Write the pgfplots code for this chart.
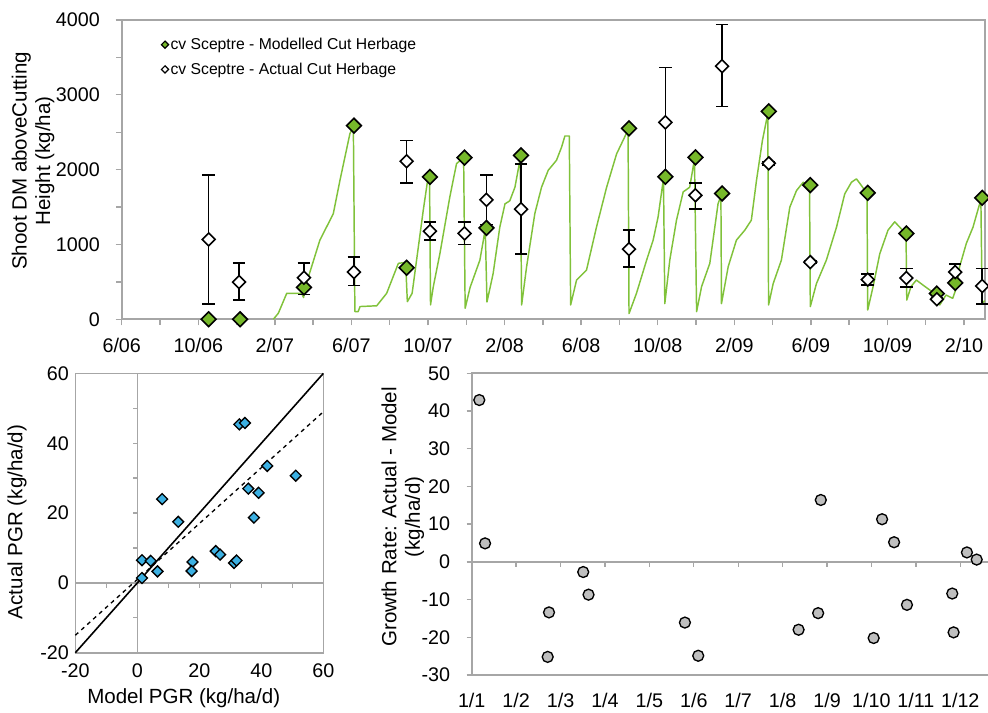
\documentclass[border=0pt]{standalone}
\usepackage{pgfplots}
\usepackage{pgfplotstable}
\pgfplotsset{compat=1.18}
\usepackage{fontspec}
\setmainfont{Liberation Sans}
\definecolor{axgray}{RGB}{166,166,166}
\definecolor{mgreen}{RGB}{118,184,42}
\definecolor{lgreen}{RGB}{128,194,58}
\definecolor{mblue}{RGB}{60,176,226}
\definecolor{cgray}{RGB}{191,191,191}
\newcommand{\ticksize}{\fontsize{14.8}{17}\selectfont}
\newcommand{\labsize}{\fontsize{15.4}{17.5}\selectfont}

\pgfplotstableread{
x y
7.92 0
8.18 80
8.62 347
9.40 347
9.50 290
9.55 400
10.35 1057
11.05 1409
11.40 1857
11.92 2480
12.10 2570
12.18 102
12.35 102
12.45 170
13.32 180
13.84 347
14.45 747
14.83 760
14.92 235
15.17 347
15.75 1453
15.98 1857
16.08 1890
16.13 191
16.27 427
16.62 876
17.14 1636
17.49 2080
17.86 2160
17.94 147
18.20 427
18.71 791
18.99 1200
19.08 231
19.40 609
19.75 1231
20.02 1542
20.27 1582
20.54 1764
20.82 2150
20.89 191
21.15 702
21.58 1413
21.93 1764
22.28 1991
22.71 2124
22.98 2302
23.15 2449
23.38 2449
23.45 191
23.76 524
24.28 658
24.80 1231
25.33 1764
25.85 2209
26.45 2530
26.50 76
26.89 347
27.42 791
27.76 1057
28.02 1369
28.30 1880
28.37 209
28.63 791
28.98 1324
29.33 1702
29.67 1764
29.92 2140
30.03 102
30.29 436
30.72 747
31.15 1542
31.30 1650
31.33 209
31.68 702
32.11 1057
32.55 1191
32.89 1324
33.16 1857
33.47 2391
33.75 2750
33.79 191
34.03 476
34.46 791
34.90 1498
35.25 1720
35.60 1831
35.93 1780
35.97 169
36.29 476
36.81 791
37.34 1231
37.77 1676
38.12 1831
38.38 1876
38.64 1787
38.93 1680
38.97 124
39.25 436
39.60 876
40.03 1191
40.38 1302
40.64 1231
40.97 1140
41.01 257
41.23 436
41.51 524
41.85 458
42.21 391
42.47 347
42.73 191
43.06 324
43.41 280
43.60 420
43.77 702
44.12 1013
44.47 1231
44.88 1600
44.95 209
45.08 250
}\modelline

\pgfplotstableread{
x y
4.54 0
6.18 0
9.52 427
12.13 2587
14.88 688
16.10 1902
17.91 2160
19.05 1221
20.86 2190
26.50 2551
28.40 1904
29.97 2163
31.36 1681
33.80 2778
35.97 1793
38.97 1690
40.99 1146
42.58 343
43.54 486
44.95 1623
}\modelcut

\pgfplotstableread{
x y ep em
4.54 1067 857 863
6.13 497 254 240
9.52 555 196 222
12.13 631 200 182
14.88 2111 280 289
16.10 1177 121 120
17.91 1147 151 147
19.05 1596 328 328
20.86 1471 605 595
26.50 937 259 240
28.40 2631 733 733
29.97 1657 165 186
31.36 3382 555 538
33.80 2084 25 25
35.97 764 20 20
38.97 529 75 72
40.99 551 125 120
42.58 267 15 15
43.54 631 111 111
44.95 444 232 240
}\actualcut

\pgfplotstableread{
x y
1.5 6.5
4.3 6.3
1.5 1.4
6.5 3.3
8.0 24.0
13.2 17.5
17.8 6.0
17.5 3.4
25.3 9.1
26.7 8.1
31.2 5.7
32.0 6.4
32.9 45.4
34.7 45.8
35.8 27.0
39.1 25.8
37.6 18.7
41.9 33.5
51.1 30.7
}\pgr

\pgfplotstableread{
x y
0.17 42.9
0.30 4.9
1.74 -13.4
1.71 -25.2
2.51 -2.7
2.63 -8.7
4.80 -16.1
5.10 -24.9
7.36 -18.0
7.80 -13.6
7.86 16.4
9.05 -20.2
9.24 11.3
9.51 5.2
9.80 -11.4
10.82 -8.4
10.85 -18.7
11.15 2.5
11.37 0.6
}\resid

\begin{document}
\begin{tikzpicture}
\useasboundingbox (0pt,0pt) rectangle (741pt,534.75pt);

% ---------------- top panel ----------------
\begin{axis}[
  at={(91.3pt,295.3pt)}, anchor=south west,
  scale only axis, width=647.5pt, height=224.5pt,
  xmin=0, xmax=45.1, ymin=0, ymax=4000,
  clip=false,
  axis line style={axgray, line width=1.2pt},
  xtick={0,4,...,44},
  xticklabels={6/06,10/06,2/07,6/07,10/07,2/08,6/08,10/08,2/09,6/09,10/09,2/10},
  minor xtick={2,6,...,42},
  ytick={0,1000,...,4000},
  minor ytick={500,1500,2500,3500},
  tick align=outside, xtick pos=bottom, ytick pos=left,
  major tick length=4.5pt, minor tick length=4pt,
  tick style={axgray, line width=1pt},
  /pgf/number format/assume math mode=true,
  /pgf/number format/1000 sep={},
  scaled y ticks=false,
  tick label style={font=\ticksize},
  xticklabel style={yshift=-6pt},
  yticklabel style={xshift=-8.4pt},
  ylabel={Shoot DM aboveCutting\\Height (kg/ha)},
  ylabel style={font=\labsize, align=center, at={(axis description cs:-0.1027,0.529)}, anchor=center},
  legend style={at={(0.045,0.945)}, anchor=north west, draw=none, fill=none,
    font=\fontsize{11.8}{14}\selectfont, row sep=6.5pt, inner sep=0pt,
    nodes={inner sep=1pt}},
  legend cell align=left,
]
\addplot[lgreen, line width=1.1pt, line join=round, forget plot] table[x=x,y=y] {\modelline};
\addplot[only marks, mark=none, forget plot,
  error bars/.cd, y dir=both, y explicit,
  error bar style={black, line width=1.2pt},
  error mark=-, error mark options={rotate=90, black, mark size=4.7pt, line width=1.2pt}]
  table[x=x,y=y,y error plus=ep,y error minus=em] {\actualcut};
\addplot[only marks, mark=square*, mark size=3.9pt,
  mark options={rotate=45, fill=mgreen, draw=black, line width=1.2pt},
  legend image code/.code={\draw[fill=mgreen,draw=black,line width=0.9pt,shift={(0.1cm,0)},rotate=45] (-1.9pt,-1.9pt) rectangle (1.9pt,1.9pt);}]
  table[x=x,y=y] {\modelcut};
\addlegendentry{cv Sceptre - Modelled Cut Herbage}
\addplot[only marks, mark=square*, mark size=3.4pt,
  mark options={rotate=45, fill=white, draw=black, line width=1.2pt},
  legend image code/.code={\draw[fill=white,draw=black,line width=0.9pt,shift={(0.1cm,0)},rotate=45] (-1.9pt,-1.9pt) rectangle (1.9pt,1.9pt);}]
  table[x=x,y=y] {\actualcut};
\addlegendentry{cv Sceptre - Actual Cut Herbage}
\end{axis}

% ---------------- bottom-left panel ----------------
\begin{axis}[
  at={(56.5pt,45.2pt)}, anchor=south west,
  scale only axis, width=186pt, height=209.5pt,
  xmin=-20, xmax=60, ymin=-20, ymax=60,
  clip=false,
  axis line style={axgray, line width=1.2pt},
  xtick={-20,0,...,60}, ytick={-20,0,...,60},
  major tick length=0pt,
  /pgf/number format/assume math mode=true,
  tick label style={font=\ticksize},
  xticklabel style={yshift=-5pt},
  yticklabel style={xshift=-1.3pt},
  xlabel={Model PGR (kg/ha/d)},
  ylabel={Actual PGR (kg/ha/d)},
  xlabel style={font=\labsize, at={(axis description cs:0.437,-0.162)}, anchor=center},
  ylabel style={font=\labsize, at={(axis description cs:-0.235,0.468)}, anchor=center},
]
\draw[axgray, line width=1.2pt] (axis cs:0,-20) -- (axis cs:0,60);
\draw[axgray, line width=1.2pt] (axis cs:-20,0) -- (axis cs:60,0);
\pgfplotsinvokeforeach{-10,10,20,30,40,50}{\draw[axgray,line width=1pt] (axis cs:#1,0) -- ++(0pt,-3.5pt);}
\pgfplotsinvokeforeach{-10,10,20,30,40,50}{\draw[axgray,line width=1pt] (axis cs:0,#1) -- ++(-3.5pt,0pt);}
\addplot[black, line width=1.2pt] coordinates {(-20,-20) (60,60)};
\addplot[black, dashed, line width=1pt] coordinates {(-20,-15) (60,49)};
\addplot[only marks, mark=square*, mark size=2.9pt,
  mark options={rotate=45, fill=mblue, draw=black, line width=1pt}]
  table[x=x,y=y] {\pgr};
\end{axis}

% ---------------- bottom-right panel ----------------
\begin{axis}[
  at={(353.8pt,28.5pt)}, anchor=south west,
  scale only axis, width=388.7pt, height=226.3pt,
  xmin=0, xmax=11.67, ymin=-30, ymax=50,
  clip=false,
  axis line style={axgray, line width=1.2pt},
  xtick={0,...,11},
  xticklabels={1/1,1/2,1/3,1/4,1/5,1/6,1/7,1/8,1/9,1/10,1/11,1/12},
  ytick={-30,-20,...,50},
  tick align=outside, ytick pos=left,
  x tick style={draw=none},
  y tick style={axgray, line width=1pt},
  major tick length=3.75pt,
  /pgf/number format/assume math mode=true,
  tick label style={font=\ticksize},
  xticklabel style={yshift=-6pt},
  yticklabel style={xshift=-8.9pt},
  ylabel={Growth Rate: Actual - Model\\(kg/ha/d)},
  ylabel style={font=\labsize, align=center, at={(axis description cs:-0.133,0.524)}, anchor=center},
]
\draw[axgray, line width=1.2pt] (axis cs:0,0) -- (axis cs:11.67,0);
\pgfplotsinvokeforeach{1,...,11}{\draw[axgray,line width=1pt] (axis cs:#1,0) -- ++(0pt,-3.5pt);}
\addplot[only marks, mark=*, mark size=4.1pt,
  mark options={fill=cgray, draw=black, line width=1pt}]
  table[x=x,y=y] {\resid};
\end{axis}
\end{tikzpicture}
\end{document}
